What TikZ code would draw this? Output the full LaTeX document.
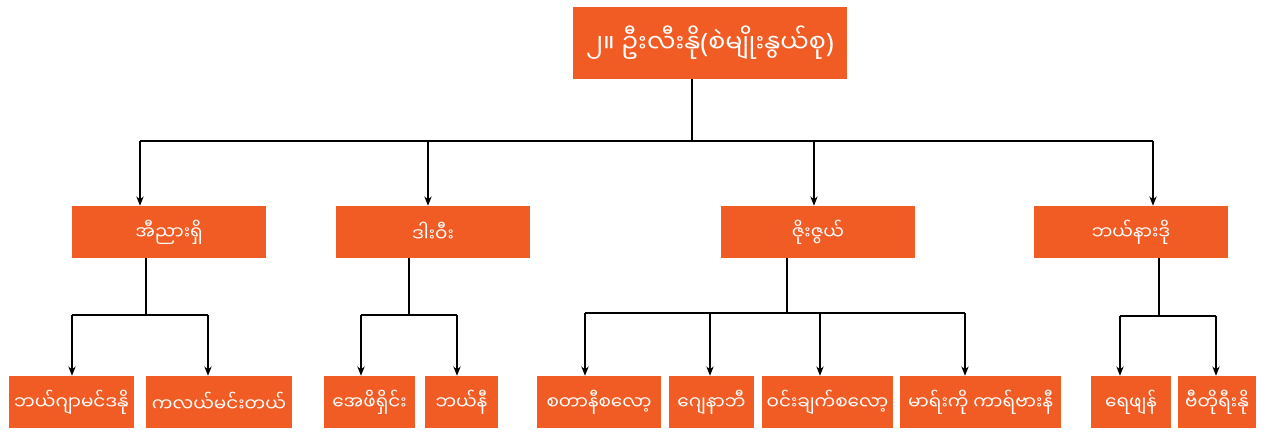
\documentclass[tikz,border=0pt]{standalone}
\usepackage{fontspec}
\newfontfamily\mym[Script=Myanmar]{Noto Sans Myanmar UI}
\newfontfamily\lat{Noto Sans}
\usetikzlibrary{arrows.meta}
\definecolor{orng}{RGB}{241,91,36}
\tikzset{
  box/.style={fill=orng, text=white, inner sep=0pt, minimum height=39pt, font=\mym\fontsize{13.8}{16}\selectfont},
  topbox/.style={box, minimum width=205.5pt, minimum height=54pt, font=\mym\fontsize{19}{22}\selectfont},
  lvtwo/.style={box, minimum width=145.5pt},
  link/.style={draw=black, line width=0.9pt},
  arr/.style={link, -{Stealth[length=7pt,width=5.5pt]}}
}
\begin{document}
\begin{tikzpicture}[x=0.75pt,y=-0.75pt]
\useasboundingbox[fill=white] (0,0) rectangle (1266,432);
% nodes
\node[topbox] (top) at (710,43) {၂။ ဦးလီးနို{\lat\fontsize{20}{22}\selectfont(}စဲမျိုးနွယ်စု{\lat\fontsize{20}{22}\selectfont)}};
\node[lvtwo] (a) at (169,232) {အီညားရှိ};
\node[lvtwo] (b) at (433,232) {ဒါးဝီး};
\node[lvtwo] (c) at (818,232) {ဇိုးဇွယ်};
\node[lvtwo] (d) at (1131,232) {ဘယ်နားဒို};
\node[box, minimum width=93.75pt] (a1) at (71.5,402) {ဘယ်ဂျာမင်ဒနို};
\node[box, minimum width=109.5pt] (a2) at (219,402) {ကလယ်မင်းတယ်};
\node[box, minimum width=68.25pt] (b1) at (369.5,402) {အေဖိရှိင်း};
\node[box, minimum width=54.75pt] (b2) at (461.5,402) {ဘယ်နီ};
\node[box, minimum width=93pt] (c1) at (599,402) {စတာနီစလော့};
\node[box, minimum width=63.75pt] (c2) at (711.5,402) {ဂျေနာဘီ};
\node[box, minimum width=98.25pt] (c3) at (827.5,402) {ဝင်းချက်စလော့};
\node[box, minimum width=120.75pt] (c4) at (980.5,402) {မာရ်းကို ကာရ်ဗားနီ};
\node[box, minimum width=60pt] (d1) at (1131,402) {ရေဖျန်};
\node[box, minimum width=58.5pt] (d2) at (1217,402) {ဗီတိုရီးနို};
% level 1 -> 2
\coordinate (j0) at (692,141);
\coordinate (ja) at (140,141);
\coordinate (jb) at (428,141);
\coordinate (jc) at (814,141);
\coordinate (jd) at (1153,141);
\draw[link] (j0 |- top.south) -- (j0);
\draw[link] (ja) -- (jd);
\draw[arr] (ja) -- (ja |- a.north);
\draw[arr] (jb) -- (jb |- b.north);
\draw[arr] (jc) -- (jc |- c.north);
\draw[arr] (jd) -- (jd |- d.north);
% a
\coordinate (ka) at (146,315);
\coordinate (ka1) at (72,315);
\coordinate (ka2) at (208,315);
\draw[link] (ka |- a.south) -- (ka);
\draw[link] (ka1) -- (ka2);
\draw[arr] (ka1) -- (ka1 |- a1.north);
\draw[arr] (ka2) -- (ka2 |- a2.north);
% b
\coordinate (kb) at (409,315);
\coordinate (kb1) at (361,315);
\coordinate (kb2) at (457,315);
\draw[link] (kb |- b.south) -- (kb);
\draw[link] (kb1) -- (kb2);
\draw[arr] (kb1) -- (kb1 |- b1.north);
\draw[arr] (kb2) -- (kb2 |- b2.north);
% c
\coordinate (kc) at (787,313);
\coordinate (kc1) at (585,313);
\coordinate (kc2) at (710,313);
\coordinate (kc3) at (820,313);
\coordinate (kc4) at (965,313);
\draw[link] (kc |- c.south) -- (kc);
\draw[link] (kc1) -- (kc4);
\draw[arr] (kc1) -- (kc1 |- c1.north);
\draw[arr] (kc2) -- (kc2 |- c2.north);
\draw[arr] (kc3) -- (kc3 |- c3.north);
\draw[arr] (kc4) -- (kc4 |- c4.north);
% d
\coordinate (kd) at (1159,316);
\coordinate (kd1) at (1120,316);
\coordinate (kd2) at (1216,316);
\draw[link] (kd |- d.south) -- (kd);
\draw[link] (kd1) -- (kd2);
\draw[arr] (kd1) -- (kd1 |- d1.north);
\draw[arr] (kd2) -- (kd2 |- d2.north);
\end{tikzpicture}
\end{document}
